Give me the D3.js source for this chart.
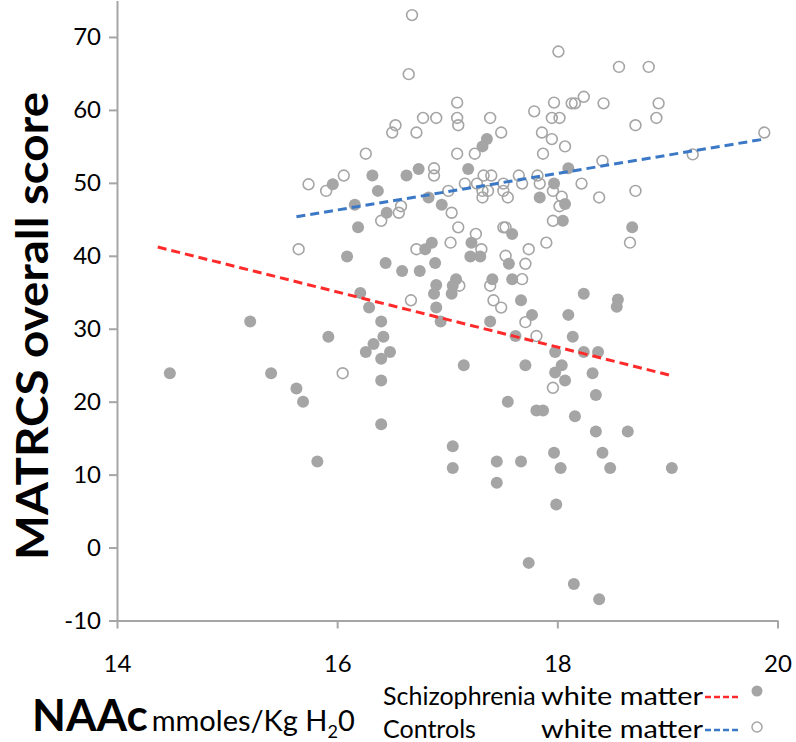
<!DOCTYPE html>
<html><head><meta charset="utf-8">
<script src="https://cdn.jsdelivr.net/npm/d3@7/dist/d3.min.js"></script>
<style>body{margin:0;background:#fff}svg{display:block}</style>
</head><body>
<svg id="chart" width="796" height="742"></svg>
<script>
const xTicks = [14, 16, 18, 20];
const yTicks = [-10, 0, 10, 20, 30, 40, 50, 60, 70];

// Schizophrenia white matter (filled)
const schizoX = [15.96,17.36,17.32,16.32,16.37,16.63,16.74,17.19,17.97,18.10,17.84,18.07,16.83,16.95,16.16,16.45,16.19,16.09,17.22,17.21,17.30,16.80,16.86,16.89,16.44,16.59,16.75,17.59,18.05,17.56,17.59,17.41,16.90,16.88,17.08,17.05,17.04,16.21,16.29,16.90,16.94,17.67,17.77,17.39,17.62,16.40,16.42,16.33,16.26,16.48,16.40,16.40,17.15,17.71,17.98,18.04,17.98,18.07,17.55,17.81,17.87,18.68,18.24,18.55,18.54,18.10,18.14,18.24,18.37,18.32,18.35,18.16,15.21,15.92,14.48,15.40,15.63,15.69,15.82,16.40,17.05,17.05,17.45,17.45,17.67,17.97,18.03,17.99,17.74,18.35,18.64,18.41,18.48,19.04,18.15,18.38];
const schizoY = [49.8,56.0,55.0,51.0,48.9,51.0,51.9,51.9,49.9,52.0,48.0,47.1,48.0,47.0,47.0,45.9,43.9,39.9,41.8,39.9,39.9,40.9,41.8,39.0,39.0,37.9,37.9,43.0,44.8,38.9,36.8,36.8,36.0,34.8,36.8,35.9,34.8,34.9,32.9,32.9,31.0,33.9,31.9,31.0,29.0,31.0,28.9,27.9,26.8,26.8,25.9,22.9,25.0,25.0,26.8,25.0,24.0,22.9,20.0,18.8,18.8,43.9,34.8,34.0,33.0,31.9,28.9,26.8,26.8,23.9,20.9,18.0,31.0,28.9,23.9,23.9,21.8,20.0,11.8,16.9,13.9,10.9,11.8,8.9,11.8,13.0,10.9,5.9,-2.1,15.9,15.9,13.0,10.9,10.9,-5.0,-7.1];

// Controls white matter (open)
const controlX = [15.74,15.90,16.06,16.68,18.01,16.65,17.09,17.97,18.13,18.16,18.24,18.42,16.53,16.50,16.78,16.90,17.09,17.10,16.72,17.39,17.49,17.79,17.95,18.02,17.86,17.95,18.07,17.87,17.09,17.25,16.26,16.88,16.88,17.33,17.40,17.16,17.27,17.51,17.65,17.68,17.82,17.84,17.96,18.04,17.32,17.37,17.32,17.51,17.55,17.01,16.58,16.56,16.40,17.04,17.10,17.26,17.03,17.31,16.72,17.51,17.53,17.96,18.02,17.90,17.74,17.53,17.71,17.68,17.39,17.11,16.67,17.42,17.49,17.71,17.81,16.05,17.96,15.65,18.66,18.56,18.83,18.92,18.90,18.71,18.41,19.23,19.88,18.22,18.38,18.71];
const controlY = [49.8,48.9,51.0,73.0,68.0,64.9,61.0,61.0,60.9,60.9,61.8,60.9,57.9,56.9,58.9,58.9,58.9,57.9,56.9,58.9,56.9,59.8,58.9,58.9,56.9,56.0,55.0,54.0,54.0,54.0,54.0,52.0,51.0,51.0,51.0,49.9,49.9,49.9,51.0,49.9,51.0,49.9,48.9,48.1,48.9,48.9,48.0,48.9,48.0,48.9,46.8,45.9,44.8,45.9,43.9,43.0,41.8,40.9,40.9,43.9,43.9,44.8,46.8,41.8,40.9,40.0,38.9,36.8,35.9,35.9,33.9,33.9,32.9,30.9,29.0,23.9,21.9,40.9,41.8,65.9,65.9,60.9,58.9,57.9,53.0,53.9,56.9,49.9,48.0,48.9];

// Linear trend lines (end points)
const schizoTrendX = [14.37, 19.03];
const schizoTrendY = [41.2, 23.6];
const controlTrendX = [15.63, 19.88];
const controlTrendY = [45.35, 56.0];

const legendLabels = ["Schizophrenia", "Controls"];
const legendTail = "white matter";

const svg = d3.select("#chart");
const x = d3.scaleLinear().domain([14, 20]).range([117, 777.5]);
const y = d3.scaleLinear().domain([-10, 75]).range([620.5, 0.5]);

const axisColor = "#a6a6a6";
const dotColor = "#a5a5a5";
const red = "#ff2a2a";
const blue = "#3b78c6";
const font = "Lato, 'Open Sans', sans-serif";

// axes
const gx = svg.append("g").attr("transform", "translate(0,620.5)")
  .call(d3.axisBottom(x).tickValues(xTicks).tickSize(8).tickSizeOuter(0).tickPadding(26).tickFormat(d => String(d)));
const gy = svg.append("g").attr("transform", "translate(117,0)")
  .call(d3.axisLeft(y).tickValues(yTicks).tickSize(8).tickSizeOuter(0).tickPadding(8).tickFormat(d => String(d)));
[gx, gy].forEach(g => {
  g.select(".domain").attr("stroke", axisColor).attr("stroke-width", 2);
  g.selectAll(".tick line").attr("stroke", axisColor).attr("stroke-width", 2);
  g.selectAll(".tick text").attr("fill", "#000").style("font-family", font).style("font-size", "24px");
});

// points
const controls = controlX.map((v, i) => [v, controlY[i]]);
const schizo = schizoX.map((v, i) => [v, schizoY[i]]);
svg.append("g").selectAll("circle").data(controls).join("circle")
  .attr("cx", d => x(d[0])).attr("cy", d => y(d[1])).attr("r", 5.4)
  .attr("fill", "none").attr("stroke", dotColor).attr("stroke-width", 1.6);
svg.append("g").selectAll("circle").data(schizo).join("circle")
  .attr("cx", d => x(d[0])).attr("cy", d => y(d[1])).attr("r", 6)
  .attr("fill", dotColor);

// trend lines
const line = d3.line().x(d => x(d[0])).y(d => y(d[1]));
svg.append("path").datum(schizoTrendX.map((v, i) => [v, schizoTrendY[i]]))
  .attr("d", line).attr("fill", "none").attr("stroke", red).attr("stroke-width", 3).attr("stroke-dasharray", "9,5");
svg.append("path").datum(controlTrendX.map((v, i) => [v, controlTrendY[i]]))
  .attr("d", line).attr("fill", "none").attr("stroke", blue).attr("stroke-width", 3).attr("stroke-dasharray", "9,5");

// axis titles
svg.append("text").attr("transform", "translate(48,326) rotate(-90)")
  .attr("text-anchor", "middle").style("font-family", font).style("font-weight", "bold")
  .style("font-size", "44px").attr("textLength", 468).attr("lengthAdjust", "spacingAndGlyphs")
  .attr("fill", "#000").text("MATRCS overall score");

const xt = svg.append("text").attr("x", 32).attr("y", 731).style("font-family", font).attr("fill", "#000");
xt.append("tspan").style("font-weight", "bold").style("font-size", "44px").text("NAAc");
xt.append("tspan").style("font-size", "29px").attr("dx", 4).text("mmoles/Kg H");
xt.append("tspan").style("font-size", "18px").attr("dy", 7).text("2");
xt.append("tspan").style("font-size", "29px").attr("dy", -7).text("0");

// legend
const lf = "25px";
svg.append("text").attr("x", 383).attr("y", 705).style("font-family", font).style("font-size", lf).attr("fill", "#000").text(legendLabels[0]);
svg.append("text").attr("x", 541).attr("y", 705).attr("textLength", 162).attr("lengthAdjust", "spacingAndGlyphs").style("font-family", font).style("font-size", lf).attr("fill", "#000").text(legendTail);
svg.append("text").attr("x", 383).attr("y", 738).style("font-family", font).style("font-size", lf).attr("fill", "#000").text(legendLabels[1]);
svg.append("text").attr("x", 541).attr("y", 738).attr("textLength", 162).attr("lengthAdjust", "spacingAndGlyphs").style("font-family", font).style("font-size", lf).attr("fill", "#000").text(legendTail);
svg.append("line").attr("x1", 705).attr("x2", 739).attr("y1", 697).attr("y2", 697)
  .attr("stroke", red).attr("stroke-width", 2.5).attr("stroke-dasharray", "6,3");
svg.append("line").attr("x1", 705).attr("x2", 739).attr("y1", 730).attr("y2", 730)
  .attr("stroke", blue).attr("stroke-width", 2.5).attr("stroke-dasharray", "6,3");
svg.append("circle").attr("cx", 757).attr("cy", 691).attr("r", 5.5).attr("fill", dotColor);
svg.append("circle").attr("cx", 757).attr("cy", 727).attr("r", 5).attr("fill", "none").attr("stroke", dotColor).attr("stroke-width", 1.5);
</script>
</body></html>
